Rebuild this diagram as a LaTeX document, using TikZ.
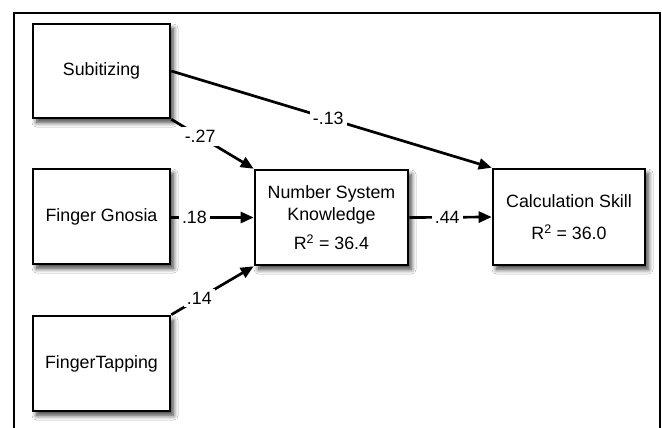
\documentclass[tikz,border=0pt]{standalone}
\usepackage{fontspec}
\setmainfont{Liberation Sans}
\usetikzlibrary{arrows.meta,shadows.blur}
\begin{document}
\begin{tikzpicture}[x=1pt,y=-1pt,
  varbox/.style={draw=black, line width=2.6pt, fill=white, align=center,
    inner sep=0pt, font=\fontsize{17.8}{22}\selectfont,
    blur shadow={shadow xshift=3.5pt, shadow yshift=-4.5pt, shadow blur radius=4.5pt, shadow blur steps=10, shadow opacity=75}},
  path/.style={line width=2.7pt, -{Triangle[length=13pt,width=11pt]}},
  coef/.style={fill=white, inner sep=3pt, font=\fontsize{17.8}{20}\selectfont}]
\useasboundingbox (0,0) rectangle (662,428);
\fill[white] (0,0) rectangle (662,428);
\draw[line width=2pt] (14,428) -- (14,13) -- (660,13) -- (660,428);
\node[varbox, minimum width=137pt, minimum height=94pt] (sub) at (101.5,71) {Subitizing};
\node[varbox, minimum width=137pt, minimum height=95pt] (fg) at (101.5,216.5) {Finger Gnosia};
\node[varbox, minimum width=137pt, minimum height=95pt] (ft) at (101.5,363.5) {FingerTapping};
\node[varbox, minimum width=153pt, minimum height=95pt] (nsk) at (331.5,217.5) {Number System\\Knowledge\\[7pt]R\textsuperscript{2} = 36.4};
\node[varbox, minimum width=152pt, minimum height=96pt] (calc) at (569,217) {Calculation Skill\\[10pt]R\textsuperscript{2} = 36.0};
\draw[path] (sub.east) -- node[coef, pos=0.49] {-.13} (calc.north west);
\draw[path] (sub.south east) -- node[coef, pos=0.35] {-.27} (nsk.north west);
\draw[path] (fg.east |- nsk.west) -- node[coef, pos=0.28] {.18} (nsk.west);
\draw[path] (ft.north east) -- node[coef, pos=0.34] {.14} (nsk.south west);
\draw[path] (nsk.east) -- node[coef, pos=0.46] {.44} (calc.west);
\end{tikzpicture}
\end{document}
